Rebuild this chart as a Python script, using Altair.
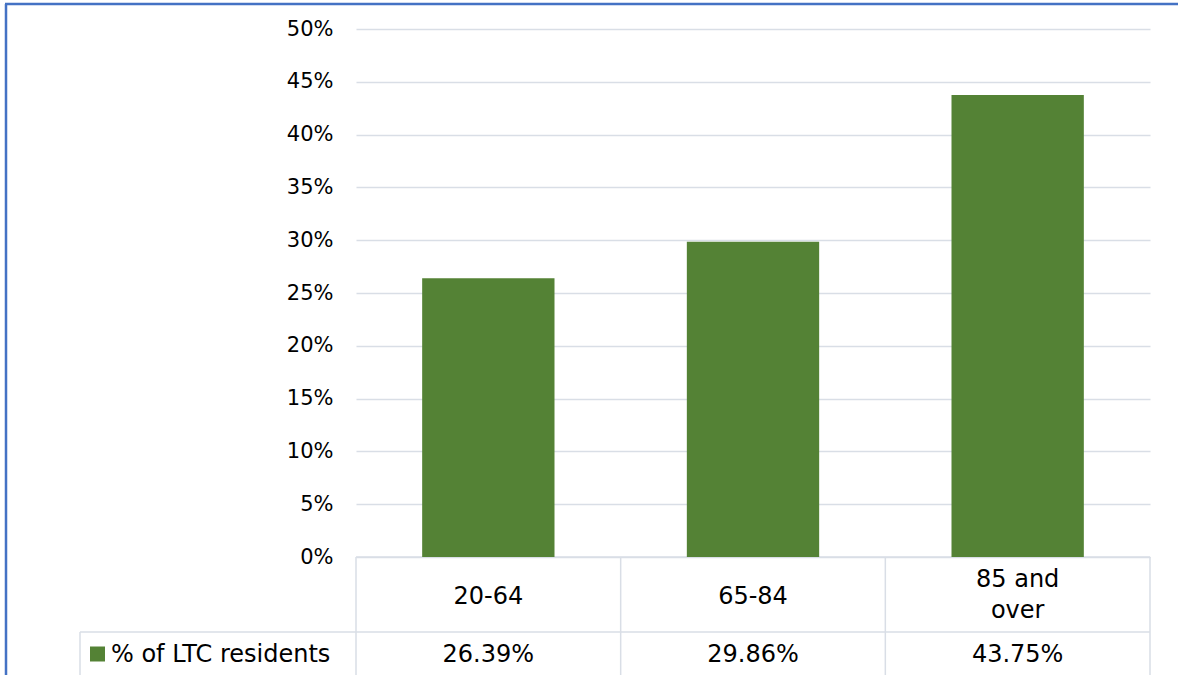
import altair as alt
import pandas as pd

categories = ["20-64", "65-84", "85 and over"]
cat_labels = ["20-64", "65-84", "85 and\nover"]
values = [0.2639, 0.2986, 0.4375]
series_name = "% of LTC residents"
y_ticks = [0, 0.05, 0.10, 0.15, 0.20, 0.25, 0.30, 0.35, 0.40, 0.45, 0.50]

df = pd.DataFrame({"cat": categories, "label": cat_labels, "value": values})

W, H = 794, 528
LEFT, TOP = 356, 29
RIGHT, BOTTOM = 1178 - LEFT - W, 675 - TOP - H
FONT = "DejaVu Sans"
FS = 21
TFS = 24
GREEN = "#548235"
GRID = "#D9DEE6"
BLUE = "#4472C4"

xenc = alt.X("cat:N", sort=categories, axis=None,
             scale=alt.Scale(paddingInner=0.5, paddingOuter=0.25))

base = alt.Chart(df)

bars = base.mark_bar(color=GREEN).encode(
    x=xenc,
    y=alt.Y("value:Q",
            scale=alt.Scale(domain=[0, 0.5], nice=False),
            axis=alt.Axis(values=y_ticks, format=".0%", title=None,
                          ticks=False, domain=False, labelPadding=23,
                          labelFontSize=FS, labelFont=FONT, labelColor="#000000",
                          gridColor=GRID, gridWidth=1.5)),
)

cat_one = base.transform_filter("indexof(datum.label, '\\n') < 0").mark_text(
    fontSize=TFS, font=FONT, color="#000000", baseline="middle").encode(
    x=xenc, y=alt.value(597 - TOP), text="label:N")
cat_two = base.transform_filter("indexof(datum.label, '\\n') >= 0").mark_text(
    lineBreak="\n", fontSize=TFS, font=FONT, color="#000000",
    baseline="middle", lineHeight=31).encode(
    x=xenc, y=alt.value(580 - TOP), text="label:N")

val_text = base.mark_text(fontSize=TFS, font=FONT, color="#000000",
                          baseline="middle").encode(
    x=xenc, y=alt.value(655 - TOP), text=alt.Text("value:Q", format=".2%"))

leg_df = pd.DataFrame({"name": [series_name]})
leg_sq = alt.Chart(leg_df).mark_square(color=GREEN, size=225, opacity=1).encode(
    x=alt.value(97.5 - LEFT), y=alt.value(654 - TOP))
leg_txt = alt.Chart(leg_df).mark_text(fontSize=TFS, font=FONT, color="#000000",
                                      align="left", baseline="middle").encode(
    x=alt.value(111 - LEFT), y=alt.value(655 - TOP), text="name:N")

def rule(x1, y1, x2, y2, color=GRID, sw=1.5):
    return alt.Chart(leg_df).mark_rule(color=color, strokeWidth=sw).encode(
        x=alt.value(x1), y=alt.value(y1), x2=alt.value(x2), y2=alt.value(y2))

step = W / 3
rules = [rule(0, H, W, H), rule(80 - LEFT, 632 - TOP, W, 632 - TOP),
         rule(80 - LEFT, 632 - TOP, 80 - LEFT, 700)]
for i in range(4):
    rules.append(rule(i * step, H, i * step, 700))

border = [rule(5 - LEFT, 4 - TOP, 1200 - LEFT, 4 - TOP, BLUE, 2.5),
          rule(6 - LEFT, 4 - TOP, 6 - LEFT, 700, BLUE, 2.5)]

chart = alt.layer(*rules, bars, cat_one, cat_two, val_text, leg_sq, leg_txt, *border).properties(
    width=W, height=H,
    padding={"left": LEFT, "top": TOP, "right": RIGHT, "bottom": BOTTOM},
    autosize=alt.AutoSizeParams(type="none"),
).configure(background="white").configure_view(stroke="transparent", strokeWidth=0)

chart.save("out.html", embed_options={"renderer": "svg", "actions": False})
